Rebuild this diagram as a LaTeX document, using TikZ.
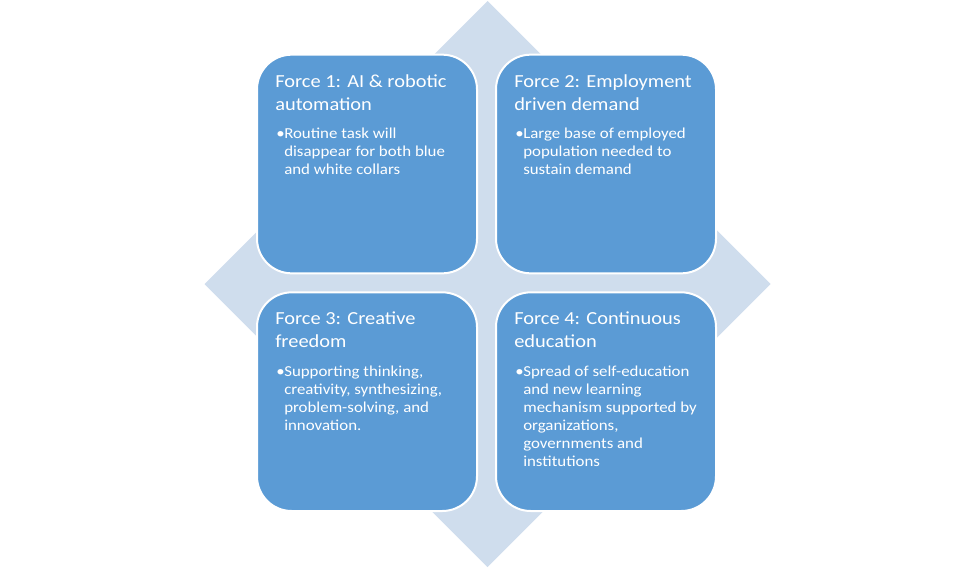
\documentclass[tikz,border=0pt]{standalone}
\usepackage{fontspec}
\setmainfont{Carlito}[FakeStretch=1.11]
\usetikzlibrary{positioning}
\definecolor{forceblue}{RGB}{91,155,213}
\definecolor{paleblue}{RGB}{207,221,237}

\tikzset{
  forcebox/.style={draw=white, line width=1.5pt, fill=forceblue, rounded corners=26pt,
    minimum width=165pt, minimum height=164pt, inner sep=0pt},
  forcetitle/.style={anchor=north west, inner sep=0pt, align=left, text=white,
    font=\fontsize{13.8}{17.25}\selectfont},
  forcetext/.style={anchor=north west, inner sep=0pt, align=left, text=white,
    font=\fontsize{11.4}{13.5}\selectfont},
}
\newcommand{\bul}{\makebox[6pt][l]{•}}
\newcommand{\ind}{\hspace*{6pt}}

\begin{document}
\begin{tikzpicture}[x=0.75pt, y=-0.75pt]
    \useasboundingbox (0,0) rectangle (975,568);
    % background diamond
    \fill[paleblue] (487.5,1) -- (770.5,284) -- (487.5,567) -- (204.5,284) -- cycle;

    % the four forces
    \node[forcebox] (f1) at (367,164) {};
    \node[forcebox, right=12.75pt of f1] (f2) {};
    \node[forcebox, below=12.75pt of f1] (f3) {};
    \node[forcebox, right=12.75pt of f3] (f4) {};

    \node[forcetitle, below right=12.75pt and 14.25pt of f1.north west] (t1) {\strut Force 1: AI \& robotic\\automation};
    \node[forcetext, below right=54.3pt and 15pt of f1.north west] (b1) {\strut\bul Routine task will\\\ind disappear for both blue\\\ind and white collars};

    \node[forcetitle, below right=12.75pt and 14.25pt of f2.north west] (t2) {\strut Force 2: Employment\\driven demand};
    \node[forcetext, below right=54.3pt and 15pt of f2.north west] (b2) {\strut\bul Large base of employed\\\ind population needed to\\\ind sustain demand};

    \node[forcetitle, below right=12.75pt and 14.25pt of f3.north west] (t3) {\strut Force 3: Creative\\freedom};
    \node[forcetext, below right=54.3pt and 15pt of f3.north west] (b3) {\strut\bul Supporting thinking,\\\ind creativity, synthesizing,\\\ind problem-solving, and\\\ind innovation.};

    \node[forcetitle, below right=12.75pt and 14.25pt of f4.north west] (t4) {\strut Force 4: Continuous\\education};
    \node[forcetext, below right=54.3pt and 15pt of f4.north west] (b4) {\strut\bul Spread of self-education\\\ind and new learning\\\ind mechanism supported by\\\ind organizations,\\\ind governments and\\\ind institutions};
\end{tikzpicture}
\end{document}
